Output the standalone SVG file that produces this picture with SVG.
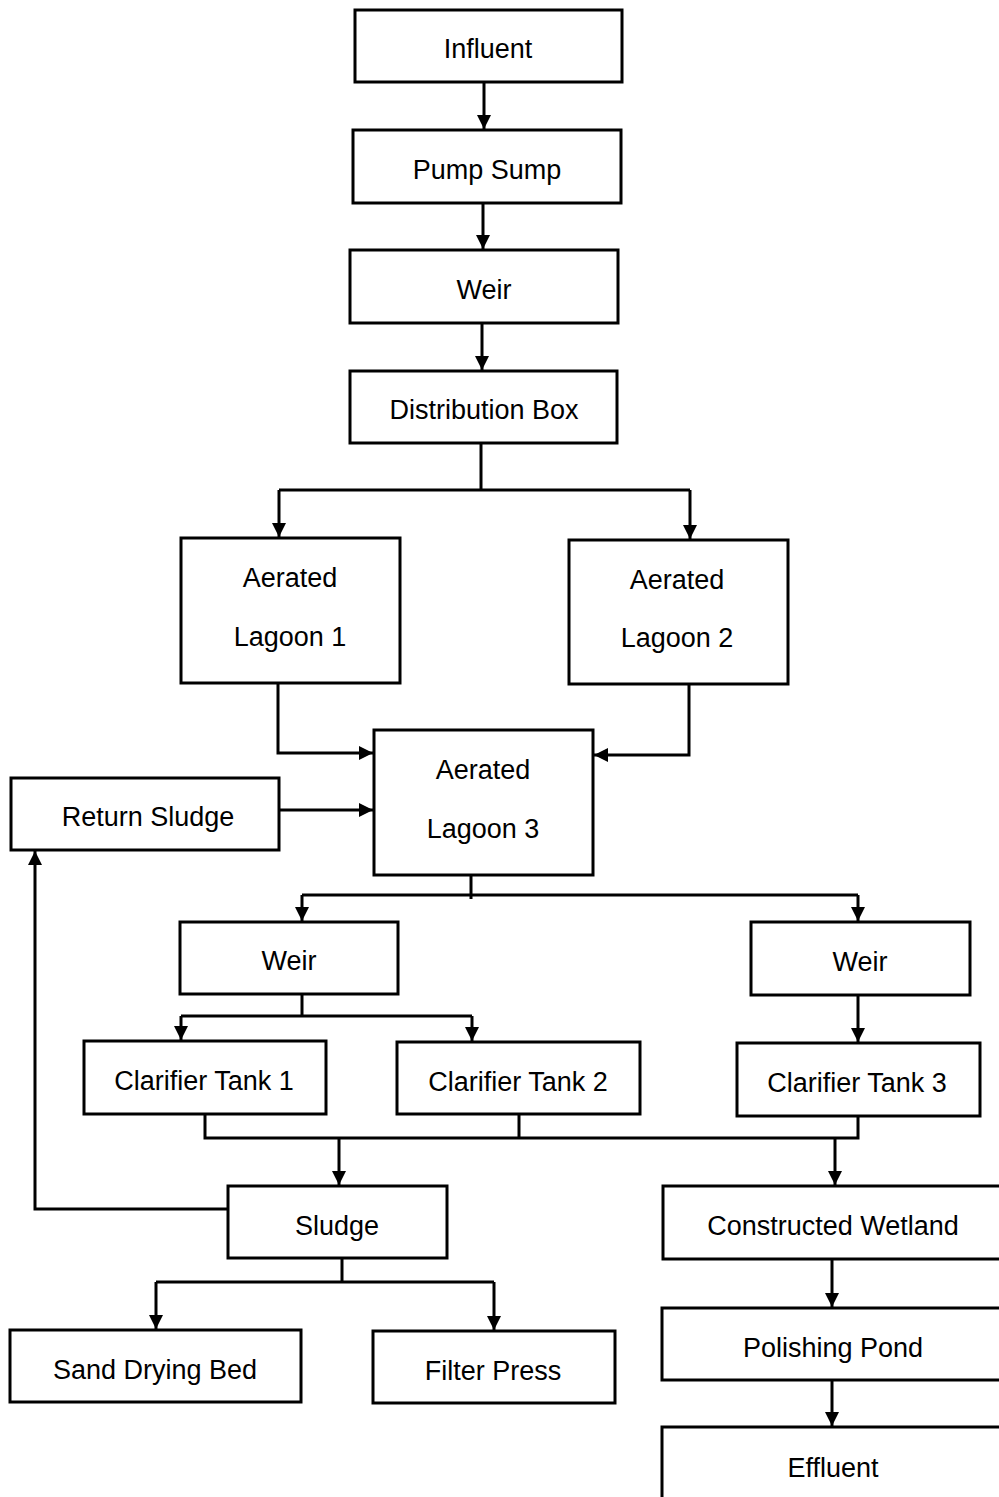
<svg xmlns="http://www.w3.org/2000/svg" width="999" height="1497" viewBox="0 0 999 1497">
<style>
.box{fill:#fff;stroke:#000;stroke-width:3}
.t{font-family:"Liberation Sans",Arial,sans-serif;font-size:27px;text-anchor:middle;fill:#000}
.c{fill:none;stroke:#000;stroke-width:3}
</style>
<defs>
<marker id="ah" markerUnits="userSpaceOnUse" markerWidth="16" markerHeight="16" refX="14" refY="7" orient="auto" overflow="visible">
<path d="M0,0 L14,7 L0,14 z" fill="#000"/>
</marker>
</defs>
<rect width="999" height="1497" fill="#fff"/>
<g id="connectors">
<path class="c" d="M484,82 V129" marker-end="url(#ah)"/>
<path class="c" d="M483,203 V249" marker-end="url(#ah)"/>
<path class="c" d="M482,323 V370" marker-end="url(#ah)"/>
<path class="c" d="M481,443 V490"/>
<path class="c" d="M279,490 H690"/>
<path class="c" d="M279,490 V537" marker-end="url(#ah)"/>
<path class="c" d="M690,490 V539" marker-end="url(#ah)"/>
<path class="c" d="M278,683 V753 H373" marker-end="url(#ah)"/>
<path class="c" d="M689,684 V755 H594" marker-end="url(#ah)"/>
<path class="c" d="M279,810 H373" marker-end="url(#ah)"/>
<path class="c" d="M471,875 V899"/>
<path class="c" d="M302,895 H858"/>
<path class="c" d="M302,895 V921" marker-end="url(#ah)"/>
<path class="c" d="M858,895 V921" marker-end="url(#ah)"/>
<path class="c" d="M302,994 V1016"/>
<path class="c" d="M181,1016 H472"/>
<path class="c" d="M181,1016 V1040" marker-end="url(#ah)"/>
<path class="c" d="M472,1016 V1041" marker-end="url(#ah)"/>
<path class="c" d="M858,995 V1042" marker-end="url(#ah)"/>
<path class="c" d="M205,1114 V1138 H858 V1116"/>
<path class="c" d="M519,1114 V1138"/>
<path class="c" d="M339,1138 V1185" marker-end="url(#ah)"/>
<path class="c" d="M835,1138 V1185" marker-end="url(#ah)"/>
<path class="c" d="M228,1209 H35 V851" marker-end="url(#ah)"/>
<path class="c" d="M342,1258 V1282"/>
<path class="c" d="M156,1282 H494"/>
<path class="c" d="M156,1282 V1329" marker-end="url(#ah)"/>
<path class="c" d="M494,1282 V1330" marker-end="url(#ah)"/>
<path class="c" d="M832,1259 V1307" marker-end="url(#ah)"/>
<path class="c" d="M832,1380 V1426" marker-end="url(#ah)"/>
</g>
<g id="influent"><rect class="box" x="355" y="10" width="267" height="72"/><text class="t" x="488" y="58">Influent</text></g>
<g id="pump-sump"><rect class="box" x="353" y="130" width="268" height="73"/><text class="t" x="487" y="179">Pump Sump</text></g>
<g id="weir-top"><rect class="box" x="350" y="250" width="268" height="73"/><text class="t" x="484" y="299">Weir</text></g>
<g id="distribution-box"><rect class="box" x="350" y="371" width="267" height="72"/><text class="t" x="484" y="419">Distribution Box</text></g>
<g id="lagoon1"><rect class="box" x="181" y="538" width="219" height="145"/><text class="t" x="290" y="587">Aerated</text><text class="t" x="290" y="646">Lagoon 1</text></g>
<g id="lagoon2"><rect class="box" x="569" y="540" width="219" height="144"/><text class="t" x="677" y="589">Aerated</text><text class="t" x="677" y="647">Lagoon 2</text></g>
<g id="lagoon3"><rect class="box" x="374" y="730" width="219" height="145"/><text class="t" x="483" y="779">Aerated</text><text class="t" x="483" y="838">Lagoon 3</text></g>
<g id="return-sludge"><rect class="box" x="11" y="778" width="268" height="72"/><text class="t" x="148" y="826">Return Sludge</text></g>
<g id="weir-left"><rect class="box" x="180" y="922" width="218" height="72"/><text class="t" x="289" y="970">Weir</text></g>
<g id="weir-right"><rect class="box" x="751" y="922" width="219" height="73"/><text class="t" x="860" y="971">Weir</text></g>
<g id="clarifier1"><rect class="box" x="84" y="1041" width="242" height="73"/><text class="t" x="204" y="1090">Clarifier Tank 1</text></g>
<g id="clarifier2"><rect class="box" x="397" y="1042" width="243" height="72"/><text class="t" x="518" y="1091">Clarifier Tank 2</text></g>
<g id="clarifier3"><rect class="box" x="737" y="1043" width="243" height="73"/><text class="t" x="857" y="1092">Clarifier Tank 3</text></g>
<g id="sludge"><rect class="box" x="228" y="1186" width="219" height="72"/><text class="t" x="337" y="1235">Sludge</text></g>
<g id="constructed-wetland"><rect class="box" x="663" y="1186" width="350" height="73"/><text class="t" x="833" y="1235">Constructed Wetland</text></g>
<g id="sand-drying-bed"><rect class="box" x="10" y="1330" width="291" height="72"/><text class="t" x="155" y="1379">Sand Drying Bed</text></g>
<g id="filter-press"><rect class="box" x="373" y="1331" width="242" height="72"/><text class="t" x="493" y="1380">Filter Press</text></g>
<g id="polishing-pond"><rect class="box" x="662" y="1308" width="350" height="72"/><text class="t" x="833" y="1357">Polishing Pond</text></g>
<g id="effluent"><rect class="box" x="662" y="1427" width="350" height="90"/><text class="t" x="833" y="1477">Effluent</text></g>
</svg>
